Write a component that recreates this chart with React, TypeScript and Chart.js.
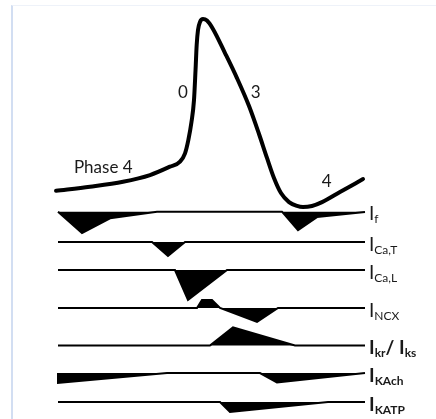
import React, { useEffect, useRef } from 'react';
import { Chart, registerables } from 'chart.js';

Chart.register(...registerables);

// ---- Action potential (time in ms, membrane potential in mV) ----
const apTime = [-2.6, 41.7, 84.7, 119.9, 145.9, 159.0, 165.5, 169.8, 173.9, 177.2, 179.2, 180.7, 182.4, 185.0, 188.9, 194.1, 201.9, 217.6, 233.2, 248.9, 261.9, 272.3, 281.4, 290.5, 301.0, 311.4, 319.2, 330.9, 344.0, 367.4, 397.4];
const apVoltage = [-81.3, -78.7, -75.5, -71.2, -65.8, -62.6, -57.2, -48.7, -37.1, -22.9, -3.6, 12.5, 22.1, 27.3, 29.2, 28.2, 22.8, 7.3, -8.8, -26.8, -44.8, -60.2, -73.1, -82.8, -88.6, -91.1, -91.8, -91.1, -88.6, -82.1, -73.8];

// Phase annotations on the action potential
const phaseLabels = ['Phase 4', '0', '3', '4'];
const phaseLabelTime = [20.8, 156.3, 251.1, 343.6];
const phaseLabelVoltage = [-69.7, -21.8, -21.8, -79.1];

// ---- Ionic currents (time in ms, relative amplitude; negative = inward) ----
const ifTime = [0, 31.3, 67.8, 129.0, 291.8, 312.7, 337.4, 400];
const ifAmp = [0, -1.07, -0.33, 0, 0, -0.92, -0.27, -0.02];

const caTTime = [0, 122.5, 143.3, 165.5, 400];
const caTAmp = [0, 0, -0.7, 0, 0];

const caLTime = [0, 152.4, 169.4, 220.2, 400];
const caLAmp = [0, 0, -1.5, 0, 0];

const ncxTime = [0, 181.1, 187.6, 200.6, 211.1, 259.3, 286.6, 400];
const ncxAmp = [0, 0, 0.4, 0.4, 0, -0.7, 0, 0];

const krksTime = [0, 198.0, 228.0, 308.8, 400];
const krksAmp = [0, 0, 0.91, 0, 0];

const kachTime = [0, 0, 142.0, 263.2, 285.3, 400];
const kachAmp = [0, -0.5, 0, 0, -0.47, 0];

const katpTime = [0, 211.1, 224.1, 351.8, 400];
const katpAmp = [0, 0, -0.5, 0, 0];

// Label parts: [text, isSubscript]
const currentLabels: [string, boolean][][] = [
  [['I', false], ['f', true]],
  [['I', false], ['Ca,T', true]],
  [['I', false], ['Ca,L', true]],
  [['I', false], ['NCX', true]],
  [['I', false], ['kr', true], ['/', false], [' ', false], ['I', false], ['ks', true]],
  [['I', false], ['KAch', true]],
  [['I', false], ['KATP', true]],
];
const currentLabelBold = [false, false, false, false, true, true, true];

// Axis ranges of each stacked row (relative amplitude units)
const rowIds = ['rIf', 'rCaT', 'rCaL', 'rNCX', 'rKrKs', 'rKAch', 'rKATP'];
const rowMin = [-0.759, -0.7, -0.95, -0.9375, -0.6875, -0.725, -0.725];
const rowMax = [0.759, 0.7575, 0.7, 0.95, 0.9375, 0.6875, 0.725];

const currentTimes = [ifTime, caTTime, caLTime, ncxTime, krksTime, kachTime, katpTime];
const currentAmps = [ifAmp, caTAmp, caLAmp, ncxAmp, krksAmp, kachAmp, katpAmp];

const PX_PER_UNIT = 20;
const AP_MIN = -85;
const AP_MAX = 35;
const AP_WEIGHT = 186.5;
const FONT = 'Lato, "Open Sans", sans-serif';

const textPlugin = {
  id: 'diagramText',
  afterDatasetsDraw(chart: any) {
    const ctx = chart.ctx as CanvasRenderingContext2D;
    const xs = chart.scales.x;
    const ap = chart.scales.ap;
    ctx.save();
    ctx.fillStyle = '#1a1a1a';
    ctx.textAlign = 'left';
    ctx.textBaseline = 'alphabetic';
    ctx.font = `17px ${FONT}`;
    phaseLabels.forEach((t, i) => {
      ctx.fillText(t, xs.getPixelForValue(phaseLabelTime[i]), ap.getPixelForValue(phaseLabelVoltage[i]));
    });
    rowIds.forEach((id, i) => {
      const ys = chart.scales[id];
      const base = ys.getPixelForValue(0);
      let cx = chart.chartArea.right + 4;
      const bold = currentLabelBold[i] ? 'bold ' : '';
      currentLabels[i].forEach(([txt, sub]) => {
        ctx.font = `${bold}${sub ? 12 : 19}px ${FONT}`;
        ctx.fillText(txt, cx, base + (sub ? 11.5 : 8.5));
        cx += ctx.measureText(txt).width;
      });
    });
    ctx.restore();
  },
};

export default function App() {
  const canvasRef = useRef<HTMLCanvasElement | null>(null);

  useEffect(() => {
    if (!canvasRef.current) return;
    const scales: any = {
      x: { type: 'linear', min: 0, max: 400, display: false },
      ap: {
        type: 'linear', position: 'right', stack: 'rows', stackWeight: AP_WEIGHT,
        min: AP_MIN, max: AP_MAX, display: false,
      },
    };
    rowIds.forEach((id, i) => {
      scales[id] = {
        type: 'linear', position: 'right', stack: 'rows',
        stackWeight: (rowMax[i] - rowMin[i]) * PX_PER_UNIT,
        min: rowMin[i], max: rowMax[i], display: false,
      };
    });

    const datasets: any[] = [
      {
        label: 'Action potential',
        data: apTime.map((t, i) => ({ x: t, y: apVoltage[i] })),
        yAxisID: 'ap',
        borderColor: '#000',
        borderWidth: 4,
        cubicInterpolationMode: 'monotone',
        pointRadius: 0,
        fill: false,
        clip: false,
        borderCapStyle: 'round',
      },
    ];
    rowIds.forEach((id, i) => {
      datasets.push({
        label: id,
        data: currentTimes[i].map((t, j) => ({ x: t, y: currentAmps[i][j] })),
        yAxisID: id,
        borderColor: '#000',
        backgroundColor: '#000',
        borderWidth: 2,
        tension: 0,
        pointRadius: 0,
        fill: 'origin',
        clip: false,
      });
    });

    const chart = new Chart(canvasRef.current, {
      type: 'line',
      data: { datasets },
      options: {
        animation: false,
        responsive: false,
        events: [],
        layout: { padding: { left: 58, right: 71, top: 10, bottom: 2.5 } },
        plugins: { legend: { display: false }, tooltip: { enabled: false } },
        scales,
      },
      plugins: [textPlugin],
    });

    let alive = true;
    if ((document as any).fonts) {
      Promise.all([
        document.fonts.load(`17px Lato`),
        document.fonts.load(`bold 19px Lato`),
        document.fonts.load(`12px Lato`),
      ]).then(() => { if (alive) chart.draw(); }).catch(() => {});
    }
    return () => { alive = false; chart.destroy(); };
  }, []);

  return (
    <div style={{ position: 'fixed', left: 0, top: 0, width: 436, height: 419, background: '#fff' }}>
      <div style={{
        position: 'absolute', left: 11, top: 5, right: 0, bottom: 0,
        borderLeft: '2px solid #d2def2', borderTop: '1px solid #eef2f9',
      }} />
      <canvas ref={canvasRef} width={436} height={419} style={{ position: 'absolute', left: 0, top: 0 }} />
    </div>
  );
}
